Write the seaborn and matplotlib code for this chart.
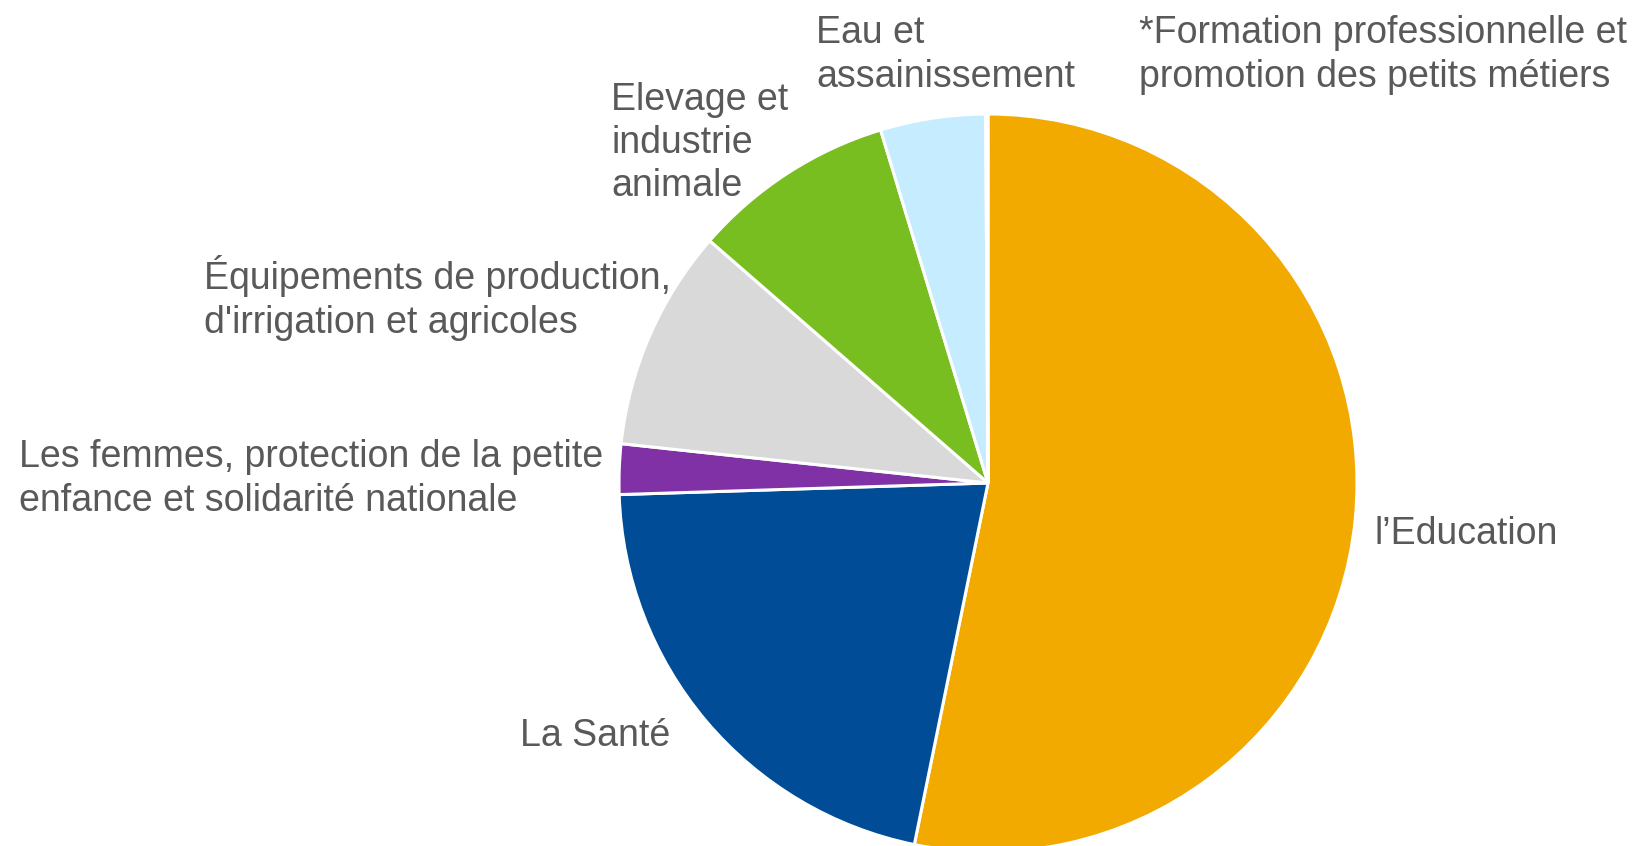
import matplotlib
matplotlib.use("Agg")
import matplotlib.pyplot as plt
import seaborn as sns

sns.set_theme(style="white")
plt.rcParams['font.family'] = ['Liberation Sans', 'DejaVu Sans']

categories = ["l’Education", "La Santé",
              "Les femmes, protection de la petite\nenfance et solidarité nationale",
              "Équipements de production,\nd'irrigation et agricoles",
              "Elevage et\nindustrie\nanimale",
              "Eau et\nassainissement",
              "*Formation professionnelle et\npromotion des petits métiers"]
values = [53.2, 21.3, 2.2, 9.7, 8.9, 4.6, 0.1]
colors = ["#F2A900", "#004C97", "#7F31A5", "#D9D9D9", "#78BE20", "#C6ECFF", "#E8E8E8"]
# label anchor positions in pixels (left edge, vertical centre)
label_px = [(1374, 534), (520, 736), (19, 479), (204, 298), (611, 143), (816, 55), (1139, 55)]

W, H = 1635, 846
cx, cy, R = 988, 483, 369

fig = plt.figure(figsize=(W / 100, H / 100), dpi=100)
ax = fig.add_axes([0, 0, 1, 1])
ax.pie(values, colors=colors, startangle=90, counterclock=False, radius=1.0,
       center=(0, 0), wedgeprops=dict(edgecolor="white", linewidth=2.2))
ax.set_aspect("auto")
ax.set_xlim(-cx / R, (W - cx) / R)
ax.set_ylim((cy - H) / R, cy / R)
ax.axis("off")

for lab, (px, py) in zip(categories, label_px):
    fig.text(px / W, 1 - py / H, lab, ha="left", va="center", fontsize=27,
             color="#595959", linespacing=1.26)

fig.savefig("out.png", dpi=100, facecolor="white")
